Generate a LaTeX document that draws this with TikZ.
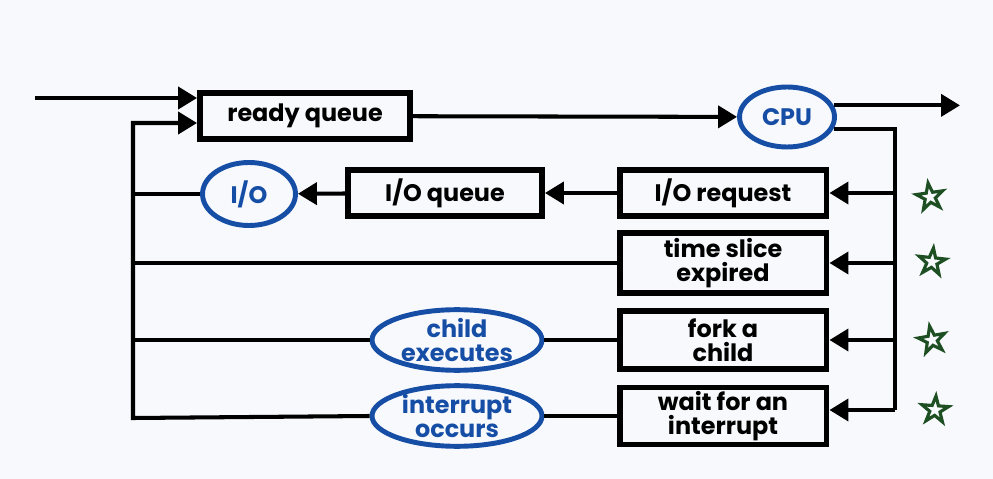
\documentclass[tikz,border=0pt]{standalone}
\usepackage{fontspec}
\setmainfont{Poppins}
\usepackage{tikz}
\usetikzlibrary{arrows.meta,positioning,shapes.geometric}
\definecolor{paperbg}{HTML}{F7F9FC}
\definecolor{ovalblue}{HTML}{164EA6}
\definecolor{inkgreen}{HTML}{1E4F22}

\begin{document}
\begin{tikzpicture}[x=0.02cm, y=-0.02cm,
    box/.style={draw, line width=3.4pt, inner sep=0pt, align=center,
                font=\bfseries\fontsize{13.6}{13.4}\selectfont,
                minimum width=4.14cm, minimum height=0.92cm},
    oval/.style={draw=ovalblue, ellipse, line width=2.8pt, inner sep=0pt,
                 text=ovalblue, align=center,
                 font=\bfseries\fontsize{13.6}{13.4}\selectfont},
    line/.style={line width=2.3pt},
    arr/.style={line, -{Triangle[length=0.38cm, width=0.44cm]}},
    handmark/.style={star, star points=5, star point ratio=2.6, draw=inkgreen,
                 line width=1.8pt, minimum size=0.56cm, inner sep=0pt}]

  %% Page and background
  \useasboundingbox (0,0) rectangle (993,479);
  \fill[paperbg] (0,0) rectangle (993,479);

  %% Top row
  \node[box, minimum width=4.2cm] (rq) at (305,116) {ready queue};
  \node[oval, minimum width=1.9cm, minimum height=1.2cm] (cpu) at (787,117) {CPU};

  %% Right column of events
  \node[box] (ior) at (723,193) {I/O request};
  \node[box, minimum height=1.2cm] (tse) at (723,263) {time slice\\expired};
  \node[box, minimum height=1.16cm] (fork) at (723,340) {fork a\\child};
  \node[box, minimum height=1.14cm] (wfi) at (723,416) {wait for an\\interrupt};

  %% Middle column
  \node[box, minimum width=3.88cm] (ioq) at (445,193) {I/O queue};
  \node[oval, minimum width=1.86cm, minimum height=1.26cm] (io) at (249,194) {I/O};
  \node[oval, minimum width=3.4cm, minimum height=1.18cm] (ce) at (457,340) {child\\executes};
  \node[oval, minimum width=3.4cm, minimum height=1.18cm] (ioc) at (457,416) {interrupt\\occurs};

  %% Loop corners
  \coordinate (entry) at (35,98);
  \coordinate (exit) at (960,105);
  \coordinate (lt) at (133,123);
  \coordinate (lb) at (133,418);
  \coordinate (rt) at (895,131);
  \coordinate (rb) at (895,410);

  %% Into the ready queue and the CPU
  \draw[arr] (entry) -- (entry -| rq.west);
  \draw[arr] (rq) -- (cpu);
  \draw[arr] (cpu.14) -- (cpu.14 -| exit);

  %% CPU back down the right side
  \draw[line] (cpu.-14) -- (cpu.-14 -| rt) -- (rb);
  \draw[arr] (rt |- ior.east) -- (ior.east);
  \draw[arr] (rt |- tse.east) -- (tse.east);
  \draw[arr] (rt |- fork.east) -- (fork.east);
  \draw[arr] (rb) -- (rb -| wfi.east);

  %% Across to the left
  \draw[arr] (ior) -- (ioq);
  \draw[arr] (ioq) -- (io);
  \draw[line] (fork) -- (ce);
  \draw[line] (wfi) -- (ioc);

  %% Back up the left side
  \draw[line] (io.west) -- (io.west -| lt);
  \draw[line] (tse.west) -- (tse.west -| lt);
  \draw[line] (ce.west) -- (ce.west -| lt);
  \draw[arr] (ioc.west) -- (lb) -- (lt) -- (lt -| rq.west);

  %% Hand marks
  \node[handmark, rotate=8] (m1) at (930,197) {};
  \node[handmark, rotate=-6] (m2) at (932,262) {};
  \node[handmark, rotate=10] (m3) at (932,340) {};
  \node[handmark, rotate=-4] (m4) at (935,410) {};
\end{tikzpicture}
\end{document}
